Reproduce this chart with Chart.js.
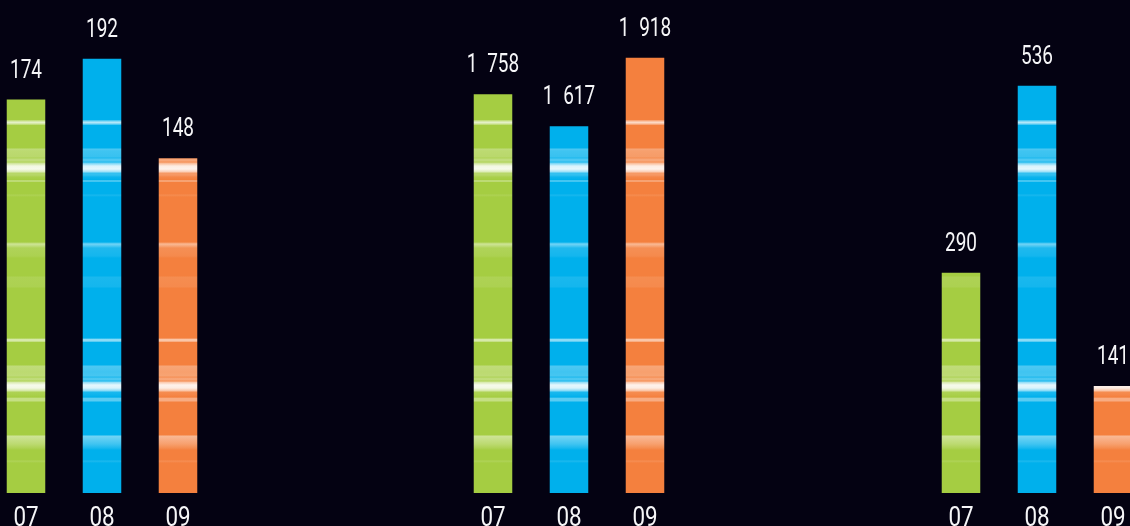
<!DOCTYPE html>
<html>
<head>
<meta charset="utf-8">
<script src="https://cdn.jsdelivr.net/npm/chart.js@4.4.0/dist/chart.umd.min.js"></script>
<style>
  html, body { margin: 0; padding: 0; background: #040212; overflow: hidden; width: 1130px; height: 526px; }
  .group { position: absolute; top: 0; width: 228px; height: 540px; }
</style>
</head>
<body>
<div class="group" style="left:-12px"><canvas id="chartA"></canvas></div>
<div class="group" style="left:455px"><canvas id="chartB"></canvas></div>
<div class="group" style="left:923px"><canvas id="chartC"></canvas></div>
<script>
// Months shown under every group
const months = ['07', '08', '09'];

// Values of the three groups, each on its own scale
const valuesA = [174, 192, 148];
const valuesB = [1758, 1617, 1918];
const valuesC = [290, 536, 141];

// Top of each group's value axis
const scaleMaxA = 218;
const scaleMaxB = 2173;
const scaleMaxC = 649;

// Bar colours per month
const barColors = [[165, 205, 66], [0, 176, 236], [244, 128, 62]];

// Whiteness of the light streaks down the canvas: [y, amount]
const sheen = [
    [0, 0],
    [119.5, 0], [121, 0.45], [122.5, 0.7], [124, 0.45], [125.5, 0],
    [148, 0], [149, 0.3], [151, 0.25], [157, 0.22], [158, 0.1], [159, 0.3], [161, 0.3],
    [162, 0.12], [163.5, 0.5], [166, 0.85], [169, 0.9], [172, 0.6], [173, 0.2], [175, 0.2],
    [177, 0.05], [179.5, 0], [181, 0.4], [182.5, 0],
    [194, 0], [195, 0.1], [197, 0],
    [242, 0], [244, 0.45], [246, 0.3], [248, 0.12], [256, 0.08], [258, 0],
    [276, 0], [277, 0.1], [287, 0.08], [288, 0],
    [338, 0], [339.5, 0.55], [341, 0.55], [342.5, 0],
    [365, 0], [366, 0.3], [372, 0.25], [376, 0.28], [377, 0.12], [379, 0.35], [381, 0.15],
    [382.5, 0.6], [385, 0.9], [388, 0.85], [391, 0.5], [392, 0.1], [395, 0.05], [397, 0],
    [398.5, 0.35], [401, 0.35], [402, 0],
    [435, 0], [436, 0.45], [440, 0.35], [444, 0.25], [448, 0.1], [450, 0],
    [460, 0], [461, 0.12], [463, 0],
    [540, 0]
];

const CANVAS_H = 540;

function mix(rgb, a) {
    const c = rgb.map(v => Math.round(v + (255 - v) * a));
    return 'rgb(' + c.join(',') + ')';
}

function sheenGradient(ctx, rgb) {
    const g = ctx.createLinearGradient(0, 0, 0, CANVAS_H);
    sheen.forEach(function(p) {
        g.addColorStop(p[0] / CANVAS_H, mix(rgb, p[1]));
    });
    return g;
}

// 1758 -> "1 758" (en space between thousands)
function formatValue(v) {
    return String(v).replace(/\B(?=(\d{3})+(?!\d))/g, '\u2002');
}

function drawNarrow(ctx, text, x, y, size, squeeze) {
    ctx.save();
    ctx.translate(x, y);
    ctx.scale(squeeze, 1);
    ctx.font = size + 'px Roboto';
    ctx.fillText(text, 0, 0);
    ctx.restore();
}

// Value labels above bars and month labels below them
const labelPlugin = {
    id: 'barLabels',
    afterDatasetsDraw: function(chart) {
        const ctx = chart.ctx;
        const xScale = chart.scales.x;
        const data = chart.data.datasets[0].data;
        ctx.save();
        ctx.fillStyle = '#f6f6f8';
        ctx.textAlign = 'center';
        ctx.textBaseline = 'alphabetic';
        chart.getDatasetMeta(0).data.forEach(function(bar, i) {
            drawNarrow(ctx, formatValue(data[i]), bar.x, bar.y - 22, 26, 0.73);
        });
        chart.data.labels.forEach(function(lab, i) {
            drawNarrow(ctx, lab, xScale.getPixelForValue(i), 526, 28, 0.8);
        });
        ctx.restore();
    }
};

function makeGroup(id, values, maxValue) {
    const gradients = {};
    new Chart(document.getElementById(id), {
        type: 'bar',
        data: {
            labels: months,
            datasets: [{
                data: values,
                backgroundColor: function(c) {
                    const i = c.dataIndex;
                    if (!gradients[i]) gradients[i] = sheenGradient(c.chart.ctx, barColors[i]);
                    return gradients[i];
                },
                borderWidth: 0,
                barPercentage: 0.507,
                categoryPercentage: 1
            }]
        },
        options: {
            responsive: true,
            maintainAspectRatio: false,
            animation: false,
            layout: { padding: { top: 0, bottom: 47, left: 0, right: 0 } },
            plugins: {
                legend: { display: false },
                tooltip: { enabled: false }
            },
            scales: {
                x: { display: false },
                y: { display: false, min: 0, max: maxValue }
            }
        },
        plugins: [labelPlugin]
    });
}

makeGroup('chartA', valuesA, scaleMaxA);
makeGroup('chartB', valuesB, scaleMaxB);
makeGroup('chartC', valuesC, scaleMaxC);
</script>
</body>
</html>
